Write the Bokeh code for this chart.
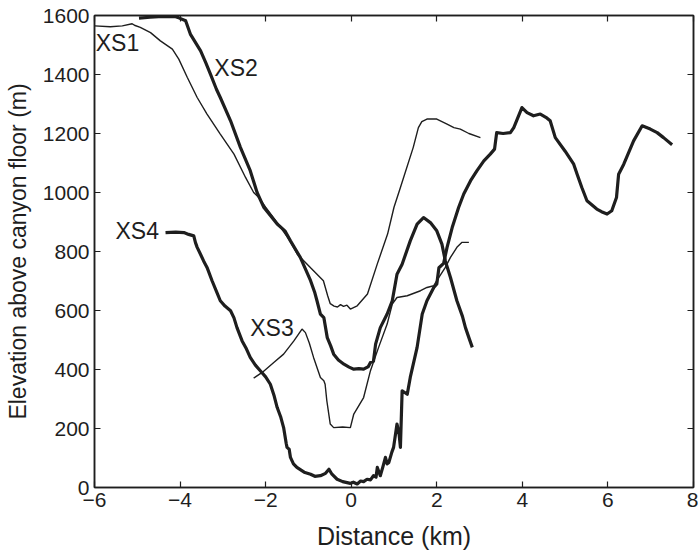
from bokeh.plotting import figure
from bokeh.models import Range1d, LinearAxis, FixedTicker, ColumnDataSource
from bokeh.core.properties import value
from bokeh.embed import file_html
from bokeh.resources import INLINE

# ---- data (distance km, elevation m) ----
xs1_x = [-6.0, -5.63, -5.35, -5.12, -5.05, -4.93, -4.69, -4.46, -4.18, -4.03, -3.83, -3.60, -3.37, -3.06,
         -2.74, -2.47, -2.28, -2.16, -2.0, -1.73, -1.45, -1.26, -0.95, -0.65, -0.55, -0.49, -0.40, -0.32,
         -0.25, -0.18, -0.10, -0.02, 0.14, 0.38, 0.61, 0.85, 1.0, 1.15, 1.45, 1.57, 1.65, 1.77, 2.0, 2.24,
         2.40, 2.55, 2.75, 3.02]
xs1_y = [1565, 1562, 1565, 1572, 1566, 1560, 1542, 1514, 1486, 1452, 1390, 1322, 1266, 1198,
         1130, 1051, 1000, 983, 950, 898, 840, 791, 745, 701, 650, 623, 615, 612,
         620, 614, 618, 605, 616, 656, 758, 859, 950, 1017, 1153, 1220, 1240, 1249, 1249, 1232,
         1220, 1215, 1200, 1186]

xs2_x = [-4.96, -4.7, -4.4, -4.1, -4.03, -3.87, -3.76, -3.52, -3.40, -3.29, -3.15, -3.06, -2.82, -2.59,
         -2.36, -2.20, -2.04, -1.88, -1.73, -1.55, -1.42, -1.19, -0.95, -0.85, -0.80, -0.72, -0.64, -0.56,
         -0.48, -0.41, -0.30, -0.17, -0.05, 0.06, 0.18, 0.29, 0.40, 0.45, 0.52, 0.57, 0.68, 0.84, 0.96,
         1.07, 1.19, 1.38, 1.54, 1.69, 1.85, 2.0, 2.12, 2.20, 2.32, 2.47, 2.60, 2.67, 2.75, 2.83]
xs2_y = [1591, 1594, 1597, 1596, 1592, 1582, 1537, 1480, 1440, 1401, 1350, 1322, 1243, 1153,
         1074, 1000, 949, 920, 893, 870, 836, 780, 701, 660, 633, 588, 576, 508,
         480, 452, 432, 418, 408, 401, 403, 401, 410, 424, 428, 486, 542, 588, 633,
         723, 757, 836, 893, 915, 898, 870, 825, 768, 712, 633, 580, 542, 508, 475]

xs3_x = [-2.28, -2.08, -1.81, -1.58, -1.34, -1.15, -1.07, -0.98, -0.88, -0.72, -0.64, -0.61, -0.57, -0.49,
         -0.41, -0.2, -0.02, 0.06, 0.29, 0.45, 0.64, 0.84, 0.96, 1.07, 1.31, 1.62, 1.77, 1.93, 2.0, 2.20,
         2.32, 2.47, 2.59, 2.75]
xs3_y = [371, 390, 424, 452, 497, 537, 525, 490, 441, 373, 362, 350, 294, 215,
         203, 205, 203, 249, 305, 396, 475, 554, 622, 644, 650, 667, 678, 684, 701, 746,
         780, 814, 831, 831]

xs4_x = [-4.34, -4.1, -3.91, -3.80, -3.68, -3.64, -3.60, -3.52, -3.45, -3.37, -3.25, -3.15, -3.06, -2.95,
         -2.82, -2.74, -2.67, -2.55, -2.45, -2.36, -2.24, -2.12, -2.0, -1.89, -1.80, -1.73, -1.65, -1.58,
         -1.52, -1.50, -1.45, -1.42, -1.35, -1.27, -1.1, -0.95, -0.85, -0.72, -0.60, -0.52, -0.45, -0.33,
         -0.2, -0.02, 0.05, 0.14, 0.22, 0.29, 0.37, 0.45, 0.52, 0.58, 0.61, 0.68, 0.74, 0.80, 0.84, 0.88,
         0.95, 0.99, 1.07, 1.12, 1.15, 1.19, 1.31, 1.38, 1.54, 1.66, 1.77, 1.93, 2.0, 2.05, 2.16, 2.24,
         2.36, 2.51, 2.63, 2.79, 2.94, 3.10, 3.25, 3.35, 3.40, 3.55, 3.72, 3.80, 3.99, 4.11, 4.26, 4.42,
         4.55, 4.65, 4.77, 5.0, 5.20, 5.28, 5.39, 5.51, 5.74, 5.85, 5.98, 6.09, 6.20, 6.25, 6.37, 6.60,
         6.80, 6.99, 7.15, 7.30, 7.50]
xs4_y = [864, 866, 864, 858, 853, 830, 814, 790, 768, 746, 700, 665, 633, 615,
         599, 575, 542, 497, 470, 441, 415, 395, 375, 350, 310, 271, 240, 203,
         150, 136, 130, 102, 80, 68, 52, 45, 38, 40, 48, 62, 45, 28,
         20, 14, 18, 12, 22, 20, 28, 26, 40, 35, 68, 40, 70, 102, 80, 85,
         120, 136, 215, 180, 136, 328, 316, 373, 475, 588, 633, 678, 690, 745, 760, 814,
         881, 949, 995, 1040, 1074, 1107, 1130, 1147, 1203, 1200, 1203, 1220, 1288, 1271, 1260, 1266,
         1255, 1243, 1186, 1140, 1096, 1062, 1017, 972, 944, 935, 927, 938, 983, 1062, 1096, 1175,
         1226, 1215, 1203, 1186, 1162]

label_text = ["XS1", "XS2", "XS3", "XS4"]
label_x = [-5.97, -3.20, -2.36, -5.51]
label_y = [1507, 1421, 540, 870]

x_ticks = [-6, -4, -2, 0, 2, 4, 6, 8]
y_ticks = [0, 200, 400, 600, 800, 1000, 1200, 1400, 1600]

FONT = "Liberation Sans"
INK = "#1e1e1e"

p = figure(width=698, height=556, output_backend="svg", toolbar_location=None,
           x_range=Range1d(-6, 8), y_range=Range1d(0, 1600),
           x_axis_location=None, y_axis_location=None,
           min_border_left=94, min_border_right=5, min_border_top=15, min_border_bottom=69)
p.frame_width = 599
p.frame_height = 472
p.xgrid.visible = False
p.ygrid.visible = False
p.outline_line_color = INK
p.outline_line_width = 1.5
p.background_fill_color = "white"
p.border_fill_color = "white"


def make_axis(cls, ticks, labels, title=None, title_size="23px", standoff=8):
    ax = cls(ticker=FixedTicker(ticks=ticks))
    ax.major_tick_in = 6
    ax.major_tick_out = 0
    ax.minor_tick_line_color = None
    ax.axis_line_color = INK
    ax.axis_line_width = 1.5
    ax.major_tick_line_color = INK
    ax.major_tick_line_width = 1.2
    if labels:
        ax.major_label_text_font = FONT
        ax.major_label_text_font_size = "21px"
        ax.major_label_text_color = INK
        ax.major_label_standoff = 5
    else:
        ax.major_label_text_font_size = "0px"
        ax.major_label_text_color = None
    if title:
        ax.axis_label = title
        ax.axis_label_text_font = FONT
        ax.axis_label_text_font_size = title_size
        ax.axis_label_text_font_style = "normal"
        ax.axis_label_text_color = INK
        ax.axis_label_standoff = standoff
    return ax


p.add_layout(make_axis(LinearAxis, x_ticks, True, "Distance (km)", "25px", 12), "below")
p.add_layout(make_axis(LinearAxis, y_ticks, True, "Elevation above canyon floor (m)", "23px", 9), "left")
p.add_layout(make_axis(LinearAxis, x_ticks, False), "above")
p.add_layout(make_axis(LinearAxis, y_ticks, False), "right")

p.line(xs1_x, xs1_y, line_color=INK, line_width=1.4)
p.line(xs3_x, xs3_y, line_color=INK, line_width=1.4)
p.line(xs2_x, xs2_y, line_color=INK, line_width=3.2, line_join="round")
p.line(xs4_x, xs4_y, line_color=INK, line_width=3.2, line_join="round")

src = ColumnDataSource(dict(x=label_x, y=label_y, t=label_text))
p.text(x="x", y="y", text="t", source=src, text_font=value(FONT), text_font_size="23px",
       text_color=INK, text_align="left", text_baseline="middle")

open("out.html", "w").write(file_html(p, INLINE))
